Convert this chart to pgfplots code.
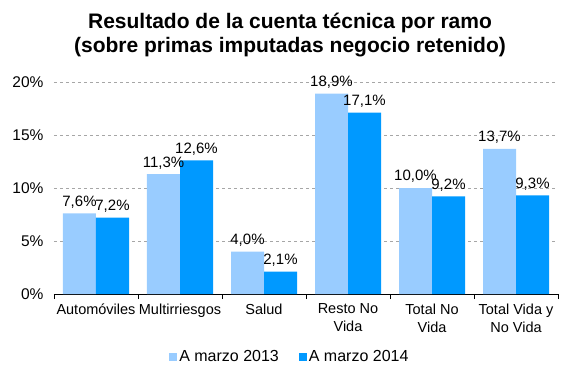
\documentclass[border=0pt]{standalone}
\usepackage{fontspec}
\setmainfont{Liberation Sans}
\usepackage{pgfplots}
\pgfplotsset{compat=1.18}
\definecolor{light}{HTML}{99CCFF}
\definecolor{dark}{HTML}{0099FF}
\begin{document}
\begin{tikzpicture}[x=1pt,y=1pt]
\path[use as bounding box] (0,0) rectangle (568,378);
\node[font=\fontsize{21}{24}\selectfont\bfseries,align=center] at (290,343) {Resultado de la cuenta técnica por ramo\\(sobre primas imputadas negocio retenido)};
\begin{axis}[
  at={(54pt,84pt)}, anchor=south west,
  scale only axis, width=504pt, height=212pt,
  ybar=0pt, bar width=33pt,
  xmin=-0.5, xmax=5.5, ymin=0, ymax=20,
  separate axis lines,
  axis x line*=bottom, axis y line*=left,
  every outer y axis line/.style={opacity=0},
  every inner y axis line/.style={opacity=0},
  y axis line style={opacity=0},
  x axis line style={black},
  ymajorgrids, grid style={gray!70, dashed},
  ytick={0,5,10,15,20},
  yticklabels={0\%,5\%,10\%,15\%,20\%},
  major y tick style={opacity=0},
  yticklabel style={xshift=-7pt, font=\fontsize{15.5}{18}\selectfont},
  xtick={0,1,2,3,4,5},
  xticklabels={Automóviles,Multirriesgos,Salud,Resto No\\Vida,Total No\\Vida,Total Vida y\\No Vida},
  xticklabel style={align=center, yshift=-2pt, font=\fontsize{14.5}{18}\selectfont},
  major x tick style={opacity=0},
  extra x ticks={-0.5,0.5,1.5,2.5,3.5,4.5,5.5},
  extra x tick labels={},
  extra x tick style={grid=none, major tick length=5pt, tick align=outside, major x tick style={black, opacity=1, thin}},
  /pgf/number format/assume math mode=true,
  nodes near coords={\pgfmathprintnumber[fixed,fixed zerofill,precision=1,use comma]{\pgfplotspointmeta}\%},
  every node near coord/.append style={font=\fontsize{15}{18}\selectfont, inner sep=1pt, yshift=4pt},
  legend style={at={(0.468,-0.297)}, anchor=center, draw=none, legend columns=2, font=\fontsize{16}{18}\selectfont,
    /tikz/every even column/.append style={column sep=18pt}},
  legend image code/.code={\fill[#1] (4pt,-4pt) rectangle (12pt,4pt);},
]
\addplot[fill=light, draw=none] coordinates {(0,7.6) (1,11.3) (2,4.0) (3,18.9) (4,10.0) (5,13.7)};
\addplot[fill=dark, draw=none] coordinates {(0,7.2) (1,12.6) (2,2.1) (3,17.1) (4,9.2) (5,9.3)};
\legend{A marzo 2013, A marzo 2014}
\end{axis}
\end{tikzpicture}
\end{document}
